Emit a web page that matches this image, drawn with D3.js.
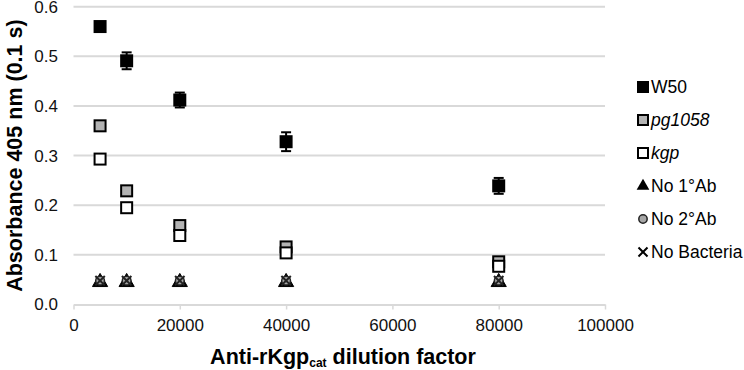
<!DOCTYPE html>
<html lang="en">
<head>
    <meta charset="UTF-8">
    <title>Absorbance vs dilution</title>
    <script src="https://d3js.org/d3.v7.min.js"></script>
    <style>
        body {margin: 0; background: white;}
        text {font-family: "Liberation Sans", Arial, sans-serif;}
    </style>
</head>
<body>
<script>
    const width = 744;
    const height = 370;

    // data
    const dilutions = [5000, 10000, 20000, 40000, 80000];
    const w50     = [0.560, 0.491, 0.412, 0.328, 0.239];
    const w50Err  = [0.000, 0.017, 0.015, 0.019, 0.016];
    const pg1058  = [0.360, 0.229, 0.159, 0.116, 0.086];
    const kgp     = [0.293, 0.195, 0.139, 0.104, 0.077];
    const no1Ab   = [0.045, 0.045, 0.045, 0.045, 0.045];
    const no2Ab   = [0.048, 0.048, 0.048, 0.048, 0.048];
    const noBact  = [0.048, 0.048, 0.048, 0.048, 0.048];

    const xTicks = [0, 20000, 40000, 60000, 80000, 100000];
    const yTicks = [0, 0.1, 0.2, 0.3, 0.4, 0.5, 0.6];
    const legendLabels = ["W50", "pg1058", "kgp", "No 1°Ab", "No 2°Ab", "No Bacteria"];

    const svg = d3.select("body").append("svg")
            .attr("width", width).attr("height", height);

    const x = d3.scaleLinear().domain([0, 100000]).range([73.5, 605]);
    const y = d3.scaleLinear().domain([0, 0.6]).range([304.5, 6.7]);

    const grid = "#d9d9d9";

    // horizontal gridlines
    svg.append("g").selectAll("line")
            .data(yTicks.slice(1))
            .join("line")
            .attr("x1", x(0)).attr("x2", x(100000))
            .attr("y1", d => y(d)).attr("y2", d => y(d))
            .style("stroke", grid)
            .style("stroke-width", 2);

    // x axis
    const xAxis = svg.append("g")
            .attr("transform", `translate(0,${y(0)})`)
            .call(d3.axisBottom(x).tickValues(xTicks).tickFormat(d3.format("d"))
                    .tickSize(5).tickPadding(9).tickSizeOuter(0));
    xAxis.select(".domain").style("stroke", grid).style("stroke-width", 2);
    xAxis.selectAll(".tick line").style("stroke", grid).style("stroke-width", 1.5);
    xAxis.selectAll("text").style("font-size", "17px").style("fill", "#111")
            .style("font-family", "Liberation Sans, Arial, sans-serif");

    // y axis
    const yAxis = svg.append("g")
            .attr("transform", `translate(${x(0)},0)`)
            .call(d3.axisLeft(y).tickValues(yTicks).tickFormat(d3.format(".1f"))
                    .tickSize(0).tickPadding(15.5));
    yAxis.select(".domain").remove();
    yAxis.selectAll("text").style("font-size", "17px").style("fill", "#111")
            .style("font-family", "Liberation Sans, Arial, sans-serif");

    // axis titles
    const xTitle = svg.append("text")
            .attr("x", 343).attr("y", 364)
            .attr("text-anchor", "middle")
            .style("font-size", "21.5px").style("font-weight", "bold");
    xTitle.append("tspan").text("Anti-rKgp");
    xTitle.append("tspan").attr("dy", 3).style("font-size", "12px").text("cat");
    xTitle.append("tspan").attr("dy", -3).text(" dilution factor");

    svg.append("text")
            .attr("transform", `translate(22,${(y(0) + y(0.6)) / 2}) rotate(-90)`)
            .attr("text-anchor", "middle")
            .style("font-size", "21.5px").style("font-weight", "bold")
            .text("Absorbance 405 nm (0.1 s)");

    // helpers for markers
    const sq = 12;
    function squares(values, fill) {
        svg.append("g").selectAll("rect")
                .data(values.map((v, i) => [dilutions[i], v]))
                .join("rect")
                .attr("x", d => x(d[0]) - sq / 2 + 0.5)
                .attr("y", d => y(d[1]) - sq / 2 + 0.5)
                .attr("width", sq - 1).attr("height", sq - 1)
                .style("fill", fill)
                .style("stroke", "black")
                .style("stroke-width", 2);
    }
    function symbols(values, type, size, fill, stroke, sw) {
        svg.append("g").selectAll("path")
                .data(values.map((v, i) => [dilutions[i], v]))
                .join("path")
                .attr("transform", d => `translate(${x(d[0])},${y(d[1])})`)
                .attr("d", d3.symbol().type(type).size(size))
                .style("fill", fill)
                .style("stroke", stroke)
                .style("stroke-width", sw);
    }

    // error bars for W50
    const errs = svg.append("g").selectAll("g")
            .data(w50.map((v, i) => ({x: dilutions[i], v: v, e: w50Err[i]})).filter(d => d.e > 0))
            .join("g")
            .style("stroke", "black").style("stroke-width", 2);
    errs.append("line")
            .attr("x1", d => x(d.x)).attr("x2", d => x(d.x))
            .attr("y1", d => y(d.v - d.e)).attr("y2", d => y(d.v + d.e));
    errs.append("line")
            .attr("x1", d => x(d.x) - 5).attr("x2", d => x(d.x) + 5)
            .attr("y1", d => y(d.v - d.e)).attr("y2", d => y(d.v - d.e));
    errs.append("line")
            .attr("x1", d => x(d.x) - 5).attr("x2", d => x(d.x) + 5)
            .attr("y1", d => y(d.v + d.e)).attr("y2", d => y(d.v + d.e));

    symbols(no1Ab, d3.symbolTriangle, 100, "black", "black", 1);
    symbols(no2Ab, d3.symbolCircle, 60, "#a6a6a6", "#222", 1.5);
    symbols(noBact, d3.symbolX, 60, "none", "#222", 2);

    squares(w50, "black");
    squares(pg1058, "#b3b3b3");
    squares(kgp, "white");

    // legend
    const ly = d3.scaleLinear().domain([0, 5]).range([87, 252]);
    const legend = svg.append("g").selectAll("g")
            .data(legendLabels)
            .join("g")
            .attr("transform", (d, i) => `translate(643,${ly(i)})`);

    legend.append("text")
            .attr("x", 8).attr("dy", "0.35em")
            .style("font-size", "17.5px")
            .style("font-style", (d, i) => (i === 1 || i === 2) ? "italic" : "normal")
            .text(d => d);

    const lsq = 10;
    legend.filter((d, i) => i < 3).append("rect")
            .attr("x", -lsq / 2).attr("y", -lsq / 2)
            .attr("width", lsq).attr("height", lsq)
            .style("fill", (d, i) => ["black", "#b3b3b3", "white"][i])
            .style("stroke", "black").style("stroke-width", 2);
    legend.filter((d, i) => i === 3).append("path")
            .attr("d", d3.symbol().type(d3.symbolTriangle).size(70))
            .style("fill", "black");
    legend.filter((d, i) => i === 4).append("path")
            .attr("d", d3.symbol().type(d3.symbolCircle).size(55))
            .style("fill", "#a6a6a6").style("stroke", "#222").style("stroke-width", 1.5);
    legend.filter((d, i) => i === 5).append("path")
            .attr("d", d3.symbol().type(d3.symbolX).size(55))
            .style("fill", "none").style("stroke", "black").style("stroke-width", 2);
</script>
</body>
</html>
